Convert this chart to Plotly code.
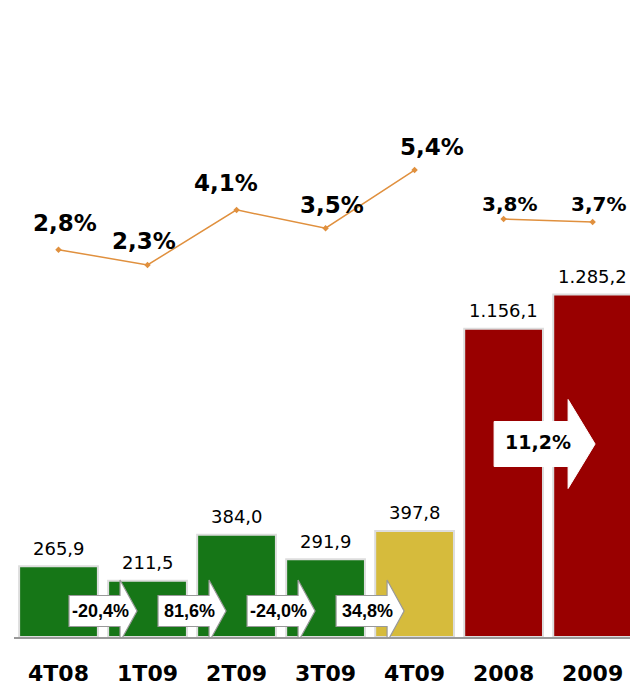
import plotly.graph_objects as go

categories = ["4T08", "1T09", "2T09", "3T09", "4T09", "2008", "2009"]
values = [265.9, 211.5, 384.0, 291.9, 397.8, 1156.1, 1285.2]
bar_colors = ["#167617", "#167617", "#167617", "#167617", "#D6BB3C", "#990000", "#990000"]

margin_q = [2.8, 2.3, 4.1, 3.5, 5.4]
margin_y = [3.8, 3.7]
margin_q_labels = ["2,8%", "2,3%", "4,1%", "3,5%", "5,4%"]
margin_y_labels = ["3,8%", "3,7%"]

growth_q = ["-20,4%", "81,6%", "-24,0%", "34,8%"]
growth_y = "11,2%"

# label offsets (pixels) for margin labels
q_shift = [(6, 27), (-4, 24), (-11, 27), (6, 23), (17, 23)]
y_shift = [(6, 15), (6, 18)]

idx = list(range(len(categories)))

fig = go.Figure()

fig.add_trace(go.Bar(
    x=idx, y=values,
    marker=dict(color=bar_colors, line=dict(color="#dddddd", width=2)),
    width=0.885, showlegend=False, hoverinfo="skip",
))

fig.add_trace(go.Scatter(
    x=idx[:5], y=margin_q, yaxis="y2", mode="lines+markers",
    line=dict(color="#E0903E", width=1.5),
    marker=dict(symbol="diamond", size=5, color="#E0903E"),
    showlegend=False, hoverinfo="skip",
))
fig.add_trace(go.Scatter(
    x=idx[5:], y=margin_y, yaxis="y2", mode="lines+markers",
    line=dict(color="#E0903E", width=1.5),
    marker=dict(symbol="diamond", size=5, color="#E0903E"),
    showlegend=False, hoverinfo="skip",
))

annotations = []
# bar value labels
for i, v in zip(idx, values):
    txt = f"{v:,.1f}".replace(",", "X").replace(".", ",").replace("X", ".")
    annotations.append(dict(x=i, y=v, xref="x", yref="y", text=txt, showarrow=False,
                            yanchor="middle", yshift=18,
                            font=dict(family="DejaVu Sans", size=18, color="#000000")))
# margin labels
for i, v, t, (dx, dy) in zip(idx[:5], margin_q, margin_q_labels, q_shift):
    annotations.append(dict(x=i, y=v, xref="x", yref="y2", text=f"<b>{t}</b>", showarrow=False,
                            yanchor="middle", xshift=dx, yshift=dy,
                            font=dict(family="DejaVu Sans", size=23, color="#000000")))
for i, v, t, (dx, dy) in zip(idx[5:], margin_y, margin_y_labels, y_shift):
    annotations.append(dict(x=i, y=v, xref="x", yref="y2", text=f"<b>{t}</b>", showarrow=False,
                            yanchor="middle", xshift=dx, yshift=dy,
                            font=dict(family="DejaVu Sans", size=20, color="#000000")))

shapes = []
small_path = "M -34 15.5 L 17 15.5 L 17 31 L 34 0 L 17 -31 L 17 -15.5 L -34 -15.5 Z"
PX_PER_UNIT = 637 / 2390.0
small_y = (637 - 611) / PX_PER_UNIT
for i, t in enumerate(growth_q):
    xm = i + 0.5
    shapes.append(dict(type="path", xref="x", yref="y", xsizemode="pixel", ysizemode="pixel",
                       xanchor=xm, yanchor=small_y, path=small_path,
                       fillcolor="#ffffff", line=dict(color="#999999", width=1.2)))
    annotations.append(dict(x=xm, y=small_y, xref="x", yref="y", text=f"<b>{t}</b>",
                            showarrow=False, xshift=-3,
                            font=dict(family="Liberation Sans", size=18, color="#000000")))
big_path = "M -54 22.5 L 20 22.5 L 20 44.5 L 47 0 L 20 -44.5 L 20 -22.5 L -54 -22.5 Z"
big_y = (637 - 444) / PX_PER_UNIT
shapes.append(dict(type="path", xref="x", yref="y", xsizemode="pixel", ysizemode="pixel",
                   xanchor=5.5, yanchor=big_y, path=big_path,
                   fillcolor="#ffffff", line=dict(color="#ffffff", width=1)))
annotations.append(dict(x=5.5, y=big_y, xref="x", yref="y", text=f"<b>{growth_y}</b>",
                        showarrow=False, xshift=-10, yshift=2,
                        font=dict(family="DejaVu Sans", size=19, color="#000000")))

fig.update_layout(
    width=630, height=686,
    margin=dict(l=14, r=0, t=0, b=49),
    paper_bgcolor="#ffffff", plot_bgcolor="#ffffff",
    xaxis=dict(range=[-0.5, 6.42], showgrid=False, zeroline=False, automargin=False,
               showline=True, linecolor="#999999", linewidth=1.5,
               ticks="outside", ticklen=16, tickcolor="#ffffff",
               tickfont=dict(family="DejaVu Sans", size=22, color="#000000"),
               tickvals=idx, ticktext=[f"<b>{c}</b>" for c in categories]),
    yaxis=dict(range=[0, 2390], visible=False, showgrid=False, automargin=False),
    yaxis2=dict(range=[-9.86, 10.96], overlaying="y", visible=False, showgrid=False,
                automargin=False),
    annotations=annotations,
    shapes=shapes,
)

fig.write_html("out.html", config={"displayModeBar": False},
               post_script="document.body.style.margin='0';document.body.style.padding='0';document.body.style.overflow='hidden';")
